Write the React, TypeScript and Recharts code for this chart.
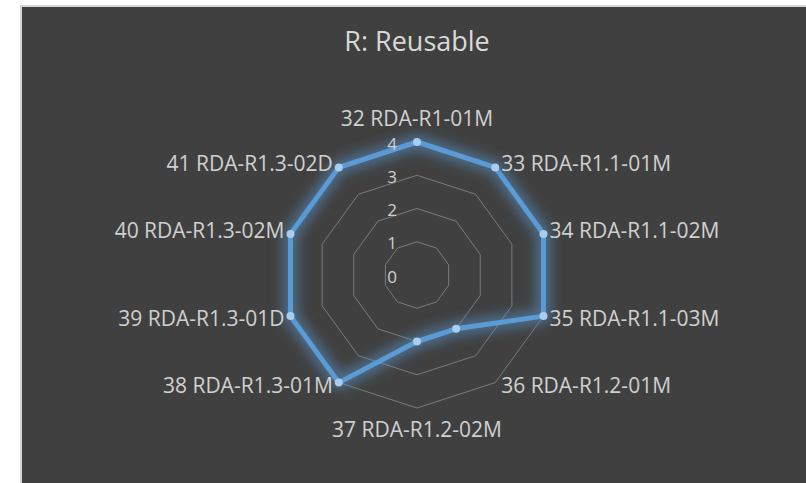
import React from "react";
import { PolarAngleAxis, PolarGrid, PolarRadiusAxis, Radar, RadarChart } from "recharts";

const categories = [
  "32 RDA-R1-01M",
  "33 RDA-R1.1-01M",
  "34 RDA-R1.1-02M",
  "35 RDA-R1.1-03M",
  "36 RDA-R1.2-01M",
  "37 RDA-R1.2-02M",
  "38 RDA-R1.3-01M",
  "39 RDA-R1.3-01D",
  "40 RDA-R1.3-02M",
  "41 RDA-R1.3-02D",
];
const scores = [4, 4, 4, 4, 2, 2, 4, 4, 4, 4];
const radiusTicks = [0, 1, 2, 3, 4];

const data = categories.map((name, i) => ({ name, score: scores[i] }));

const WIDTH = 806;
const HEIGHT = 483;
const CX = 417;
const CY = 275;
const OUTER = 133;
const TEXT = "#d0d0d0";
const FONT = "'Open Sans', sans-serif";

// category labels sit just outside the outer ring, centred at top/bottom,
// start/end aligned on the sides
function AngleTick(props: any) {
  const angle = (props.payload.coordinate * Math.PI) / 180;
  const px = CX + OUTER * Math.cos(angle);
  const py = CY - OUTER * Math.sin(angle);
  const dx = px - CX;
  let x = px;
  let y = py;
  let anchor: "start" | "middle" | "end" = "middle";
  if (Math.abs(dx) < 1) {
    y = py < CY ? py - 24 : py + 21;
  } else {
    anchor = dx > 0 ? "start" : "end";
    x = px + (dx > 0 ? 6 : -6);
    y = py + (py < CY ? -4 : 2);
  }
  return (
    <text x={x} y={y} textAnchor={anchor} dominantBaseline="central" fill={TEXT} fontSize={21} fontFamily={FONT}>
      {props.payload.value}
    </text>
  );
}

function RadiusTick(props: any) {
  return (
    <text x={props.x - 20} y={props.y + 1} textAnchor="end" dominantBaseline="central" fill={TEXT} fontSize={17} fontFamily={FONT}>
      {props.payload.value}
    </text>
  );
}

export default function App() {
  return (
    <div style={{ position: "fixed", left: 0, top: 0, width: WIDTH, height: HEIGHT, background: "#ffffff", overflow: "hidden" }}>
      <style>{`.glow { filter: blur(4px); }`}</style>
      <div
        style={{
          position: "absolute",
          left: 20,
          top: 5,
          width: WIDTH - 20,
          height: HEIGHT - 5,
          background: "#404040",
          borderTop: "2px solid #d6d6d6",
          borderLeft: "2px solid #d6d6d6",
          boxSizing: "border-box",
        }}
      />
      <div
        style={{
          position: "absolute",
          left: 20,
          top: 24,
          width: 2 * (CX - 20),
          textAlign: "center",
          color: "#d9d9d9",
          fontFamily: FONT,
          fontSize: 27,
          lineHeight: "34px",
        }}
      >
        R: Reusable
      </div>
      <div style={{ position: "absolute", left: 0, top: 0 }}>
        <RadarChart width={WIDTH} height={HEIGHT} data={data} cx={CX} cy={CY} outerRadius={OUTER} margin={{ top: 0, right: 0, bottom: 0, left: 0 }}>
          <PolarGrid gridType="polygon" radialLines={false} stroke="#7a7a7a" strokeWidth={1} />
          <PolarAngleAxis dataKey="name" tick={<AngleTick />} tickLine={false} axisLine={false} />
          <PolarRadiusAxis
            angle={90}
            domain={[0, 4]}
            ticks={radiusTicks as any}
            tickCount={5}
            tick={<RadiusTick />}
            axisLine={false}
            tickLine={false}
          />
          <Radar
            className="glow"
            dataKey="score"
            stroke="#5b9bd5"
            strokeOpacity={0.55}
            strokeWidth={14}
            strokeLinejoin="round"
            fill="none"
            dot={false}
            isAnimationActive={false}
          />
          <Radar
            dataKey="score"
            stroke="#5b9bd5"
            strokeWidth={5}
            strokeLinejoin="round"
            fill="none"
            dot={{ r: 4, fill: "#a9cdee", stroke: "none", fillOpacity: 1 }}
            isAnimationActive={false}
          />
        </RadarChart>
      </div>
    </div>
  );
}
